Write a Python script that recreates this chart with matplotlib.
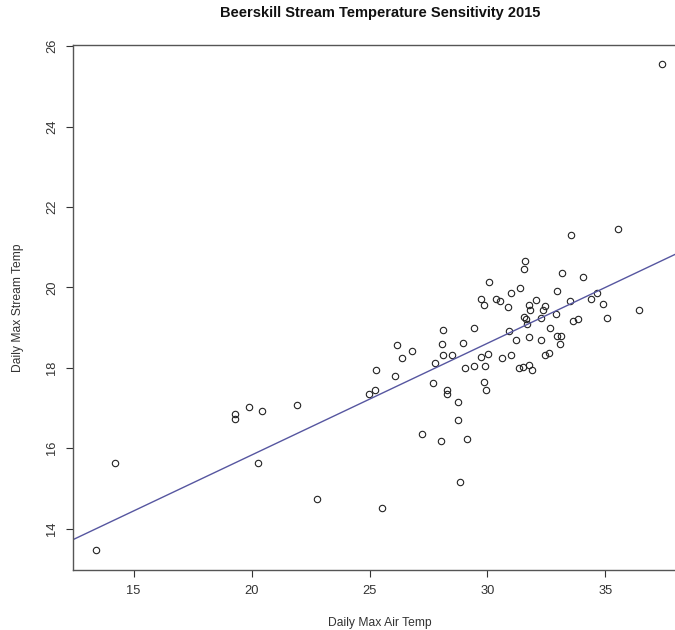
# Beerskill stream temperature sensitivity scatter plot
import matplotlib
matplotlib.use("Agg")
import matplotlib.pyplot as plt

plt.rcParams['font.family'] = ['Liberation Sans', 'DejaVu Sans']

# daily max air temp / daily max stream temp
air_temp = [13.40, 14.20, 19.31, 19.31, 19.91, 20.42, 20.28, 21.93, 22.79, 25.52,
            24.96, 25.23, 25.29, 26.06, 26.17, 26.36, 26.80, 27.21, 27.70, 27.76,
            28.07, 28.13, 28.10, 28.05, 28.28, 28.28, 28.50, 28.76, 28.73, 28.83,
            28.95, 29.03, 29.13, 29.43, 29.43, 29.71, 29.84, 29.72, 29.84, 29.94,
            29.91, 30.02, 30.06, 30.36, 30.53, 30.61, 30.87, 30.91, 30.98, 30.98,
            31.21, 31.35, 31.38, 31.52, 31.53, 31.59, 31.55, 31.63, 31.69, 31.74,
            31.74, 31.77, 31.81, 31.90, 32.07, 32.27, 32.28, 32.35, 32.46, 32.46,
            32.62, 32.67, 32.92, 32.93, 32.94, 33.10, 33.07, 33.17, 33.51, 33.54,
            33.61, 33.82, 34.05, 34.41, 34.65, 34.88, 35.05, 35.52, 36.41, 37.40]
stream_temp = [13.46, 15.62, 16.84, 16.73, 17.03, 16.93, 15.64, 17.07, 14.73, 14.52,
               17.34, 17.46, 17.94, 17.79, 18.56, 18.24, 18.43, 16.36, 17.61, 18.13,
               18.59, 18.94, 18.31, 16.18, 17.46, 17.35, 18.32, 17.16, 16.69, 15.15,
               18.61, 17.99, 16.22, 18.98, 18.04, 19.72, 19.56, 18.26, 17.65, 17.46,
               18.05, 18.35, 20.14, 19.72, 19.66, 18.25, 19.52, 18.92, 19.86, 18.33,
               18.70, 17.99, 19.98, 18.02, 20.46, 20.66, 19.26, 19.21, 19.09, 18.76,
               18.07, 19.57, 19.45, 17.94, 19.68, 19.25, 18.70, 19.44, 19.54, 18.31,
               18.36, 18.98, 19.33, 18.79, 19.90, 18.78, 18.60, 20.35, 19.66, 21.30,
               19.16, 19.21, 20.27, 19.72, 19.87, 19.58, 19.23, 21.46, 19.45, 25.55]

# regression line (abline)
intercept = 10.27
slope = 0.278

x_ticks = [15, 20, 25, 30, 35]
y_ticks = [14, 16, 18, 20, 22, 24, 26]

fig = plt.figure(figsize=(6.75, 6.3), dpi=100)
# plot box runs past the right edge of the picture, like the original
ax = fig.add_axes([73.3 / 675, 60 / 630, (687 - 73.3) / 675, 525 / 630])

ax.plot(air_temp, stream_temp, linestyle='none', marker='o', markersize=4.6,
        markerfacecolor='none', markeredgecolor='#222222', markeredgewidth=0.8)
ax.axline((0, intercept), slope=slope, color='#5656a0', linewidth=1.0)

ax.set_xlim(12.44, 38.46)
ax.set_ylim(12.97, 26.03)
ax.set_xticks(x_ticks)
ax.set_yticks(y_ticks)
ax.tick_params(direction='out', length=5, width=0.8, color='#333333',
               labelsize=9.3, labelcolor='#333333', pad=6)
plt.setp(ax.get_yticklabels(), rotation=90, va='center')

for s in ax.spines.values():
    s.set_color('#555555')
    s.set_linewidth(1.0)

ax.set_xlabel('Daily Max Air Temp', fontsize=8.7, color='#333333', labelpad=14)
ax.set_ylabel('Daily Max Stream Temp', fontsize=8.7, color='#333333', labelpad=16)
ax.set_title('Beerskill Stream Temperature Sensitivity 2015', fontsize=10.5,
             fontweight='bold', color='#111111', pad=20)

fig.savefig('out.png', dpi=100)
